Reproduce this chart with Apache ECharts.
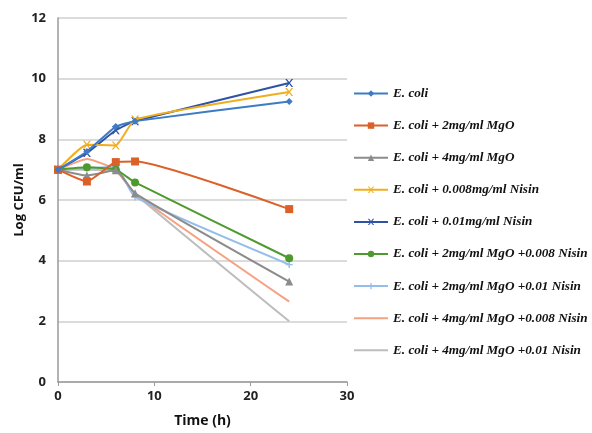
<!DOCTYPE html>
<html><head><meta charset="utf-8">
<script src="https://cdn.jsdelivr.net/npm/echarts@6/dist/echarts.min.js"></script>
<style>html,body{margin:0;padding:0;background:#fff}#c{width:592px;height:433px}</style>
</head><body><div id="c"></div>
<script>
const times = [0, 3, 6, 8, 24];
const names = [
  'E. coli',
  'E. coli + 2mg/ml MgO',
  'E. coli + 4mg/ml MgO',
  'E. coli + 0.008mg/ml Nisin',
  'E. coli + 0.01mg/ml Nisin',
  'E. coli + 2mg/ml MgO +0.008 Nisin',
  'E. coli + 2mg/ml MgO +0.01 Nisin',
  'E. coli + 4mg/ml MgO +0.008 Nisin',
  'E. coli + 4mg/ml MgO +0.01 Nisin'
];
const ecoli        = [7.0, 7.6, 8.42, 8.6, 9.25];
const mgo2         = [7.0, 6.61, 7.25, 7.27, 5.7];
const mgo4         = [7.0, 6.81, 6.98, 6.22, 3.31];
const nisin008     = [7.0, 7.82, 7.8, 8.65, 9.56];
const nisin01      = [7.0, 7.55, 8.3, 8.6, 9.86];
const mgo2nisin008 = [7.0, 7.08, 7.0, 6.58, 4.08];
const mgo2nisin01  = [7.0, 7.05, 7.1, 6.1, 3.87];
const mgo4nisin008 = [7.0, 7.35, 7.0, 6.2, 2.65];
const mgo4nisin01  = [7.0, 7.0, 6.95, 6.2, 2.0];
const yTicks = [0, 2, 4, 6, 8, 10, 12];
const xTicks = [0, 10, 20, 30];

const values = [ecoli, mgo2, mgo4, nisin008, nisin01, mgo2nisin008, mgo2nisin01, mgo4nisin008, mgo4nisin01];
const colors = ['#3D7CC4', '#DB6128', '#8C8C8C', '#F0AE1E', '#2F52A6', '#4F9A2E', '#94BEEA', '#F5A182', '#BDBDBD'];
const xPath = 'path://M0,0L2,0L5,3L8,0L10,0L6,4L10,8L8,8L5,5L2,8L0,8L4,4Z';
const plusPath = 'path://M4,0L6,0L6,4L10,4L10,6L6,6L6,10L4,10L4,6L0,6L0,4L4,4Z';
const symbols = ['diamond', 'rect', 'triangle', xPath, xPath, 'circle', plusPath, 'none', 'none'];
const sizes = [7, 8, 8, 8, 8, 8, 7, 0, 0];

const series = names.map((n, i) => ({
  name: n,
  type: 'line',
  smooth: 0.15,
  data: times.map((t, j) => [t, values[i][j]]),
  symbol: symbols[i],
  symbolSize: sizes[i],
  showSymbol: symbols[i] !== 'none',
  lineStyle: { width: 2, color: colors[i] },
  itemStyle: { color: colors[i] },
  z: 10 - i
}));

const legendData = names.map((n, i) => symbols[i] === 'none'
  ? { name: n, itemStyle: { opacity: 0 } }
  : { name: n });

const chart = echarts.init(document.getElementById('c'));
chart.setOption({
  animation: false,
  backgroundColor: '#fff',
  color: colors,
  grid: { left: 58, top: 18, right: 245, bottom: 51, containLabel: false },
  xAxis: {
    type: 'value', min: xTicks[0], max: xTicks[xTicks.length - 1], interval: 10,
    name: 'Time (h)', nameLocation: 'middle', nameGap: 32,
    nameTextStyle: { fontFamily: 'Open Sans', fontWeight: 'bold', fontSize: 14, color: '#111' },
    axisLine: { show: true, lineStyle: { color: '#9a9a9a', width: 1.5 } },
    axisTick: { show: true, length: 4, lineStyle: { color: '#9a9a9a' } },
    axisLabel: { fontFamily: 'Open Sans', fontWeight: 'bold', fontSize: 13, color: '#222', margin: 8 },
    splitLine: { show: false }
  },
  yAxis: {
    type: 'value', min: yTicks[0], max: yTicks[yTicks.length - 1], interval: 2,
    name: 'Log CFU/ml', nameLocation: 'middle', nameGap: 32, nameRotate: 90,
    nameTextStyle: { fontFamily: 'Open Sans', fontWeight: 'bold', fontSize: 13, color: '#111' },
    axisLine: { show: true, lineStyle: { color: '#9a9a9a', width: 1.5 } },
    axisTick: { show: false },
    axisLabel: { fontFamily: 'Open Sans', fontWeight: 'bold', fontSize: 13, color: '#222', margin: 12 },
    splitLine: { show: true, lineStyle: { color: '#cfcfcf', width: 1.5 } }
  },
  legend: {
    orient: 'vertical', left: 353, top: 87, padding: 0, itemGap: 19.1,
    itemWidth: 34, itemHeight: 8,
    textStyle: { fontFamily: 'Liberation Serif', fontStyle: 'italic', fontWeight: 'bold', fontSize: 13.2, color: '#111' },
    data: legendData
  },
  series: series
});
</script>
</body></html>
